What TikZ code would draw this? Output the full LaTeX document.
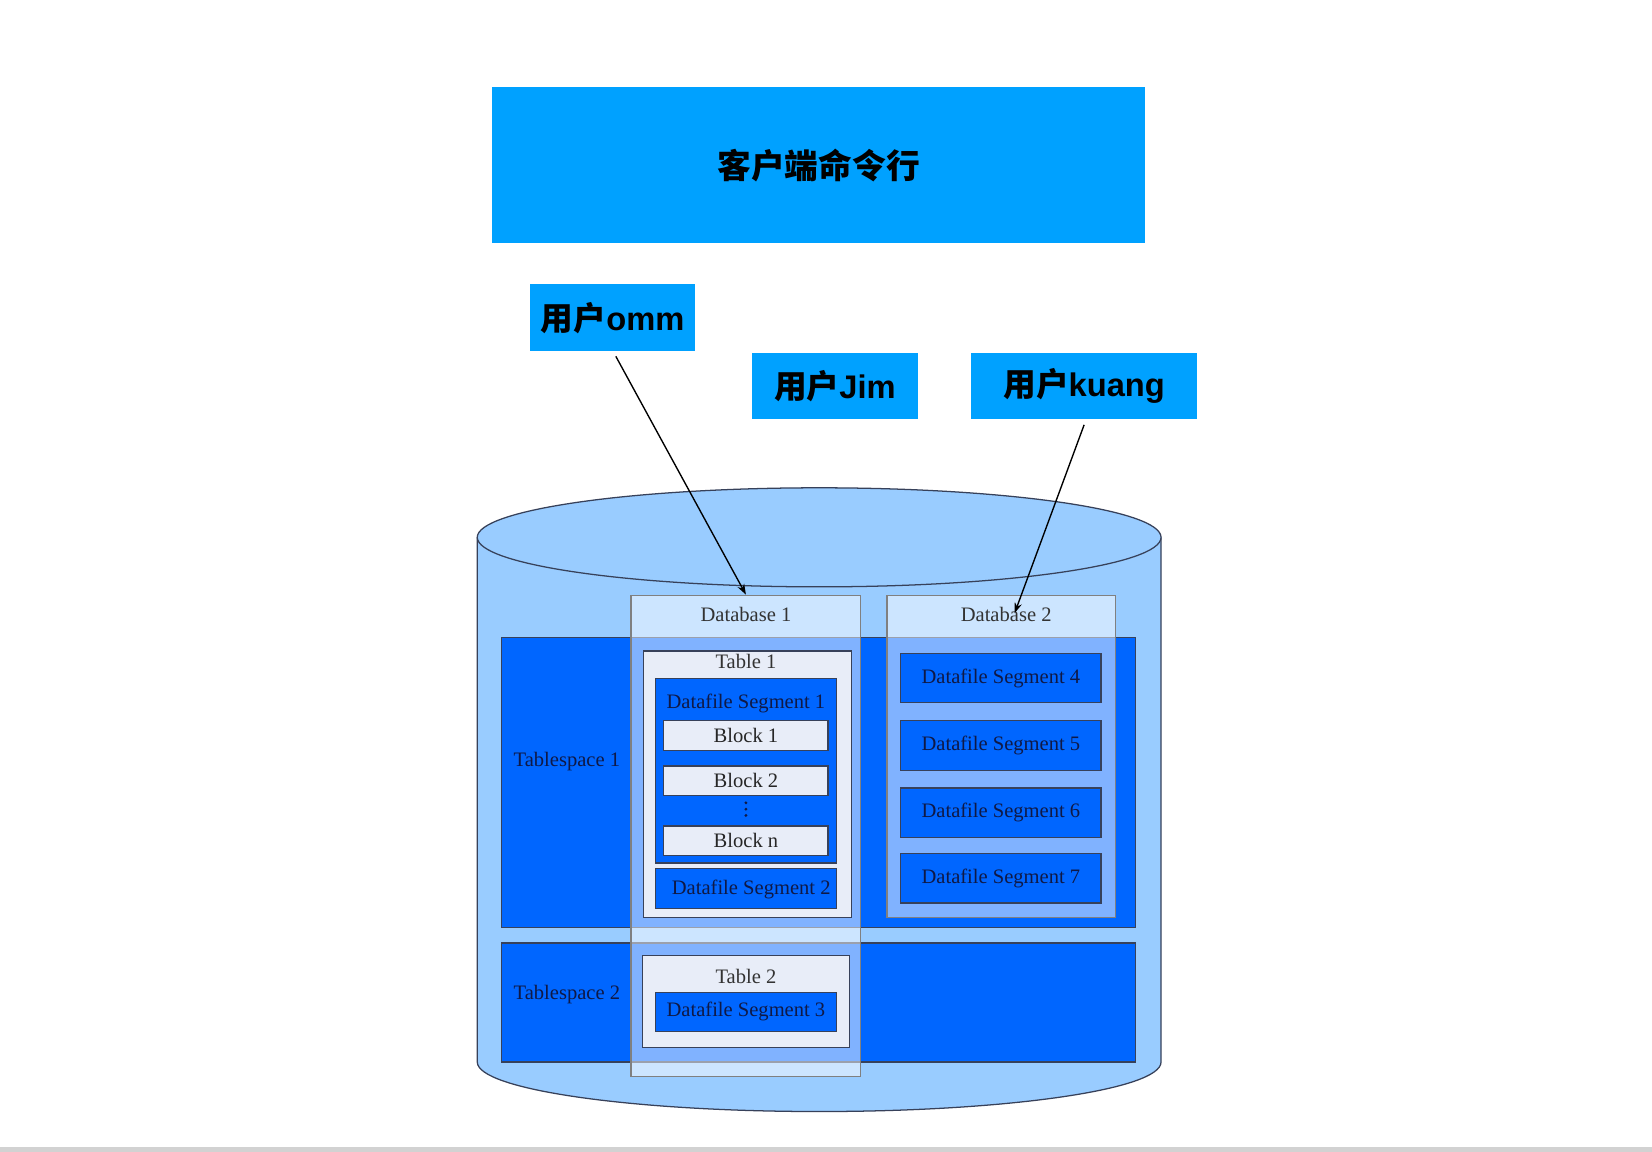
\documentclass[tikz,border=0pt]{standalone}
\usepackage{fontspec}
\setmainfont{Liberation Serif}
\setsansfont{Liberation Sans}
\newfontfamily\cjk{Noto Sans CJK SC}
\usetikzlibrary{arrows.meta}
\definecolor{cmdblue}{RGB}{0,161,255}
\definecolor{drumblue}{RGB}{153,204,255}
\definecolor{spaceblue}{RGB}{0,102,255}
\definecolor{tablegray}{RGB}{232,237,248}
\definecolor{edgegray}{RGB}{55,65,90}
\definecolor{segtext}{RGB}{15,25,70}
\newcommand{\usr}[1]{{\cjk\bfseries 用户}{\sffamily\bfseries #1}}
\begin{document}
\begin{tikzpicture}[x=1pt,y=-1pt,
  usrbox/.style={fill=cmdblue, minimum height=63pt, inner sep=0pt, font=\fontsize{31}{34}\selectfont},
  space/.style={draw=edgegray, fill=spaceblue, line width=1.2pt, minimum width=602pt, inner sep=0pt},
  dbcol/.style={draw=gray, fill=white, fill opacity=0.5, line width=1.2pt, inner sep=0pt},
  tbl/.style={draw=edgegray, fill=tablegray, line width=1.2pt, inner sep=0pt},
  seg/.style={draw=edgegray, fill=spaceblue, line width=1.2pt, inner sep=0pt},
  blk/.style={draw=edgegray, fill=tablegray, line width=1.2pt, minimum width=156pt, minimum height=28pt, inner sep=0pt, font=\fontsize{19.5}{21}\selectfont, text=black!85},
  lbl/.style={font=\fontsize{19.5}{21}\selectfont, text=black!80, inner sep=0pt},
  seglbl/.style={font=\fontsize{19.5}{21}\selectfont, text=segtext, inner sep=0pt},
  link/.style={draw, line width=1.3pt, -{Stealth[length=10pt,width=7pt]}}]
\useasboundingbox (0,0) rectangle (1568,1093);
\fill[gray!35] (0,1089) rectangle (1568,1093);
\node[fill=cmdblue, minimum width=620pt, minimum height=148pt, font=\cjk\bfseries\fontsize{32}{36}\selectfont] (cmd) at (777,157) {客户端命令行};
\node[usrbox, minimum width=157pt] (omm) at (581.5,301.5) {\usr{omm}};
\node[usrbox, minimum width=157pt] (jim) at (792.5,366.5) {\usr{Jim}};
\node[usrbox, minimum width=214pt] (kuang) at (1029,366.5) {\usr{kuang}};
\path[draw=edgegray, fill=drumblue, line width=1.2pt] (453,510) -- (453,1008) arc[start angle=180, end angle=0, x radius=324.5, y radius=47] -- (1102,510);
\path[draw=edgegray, fill=drumblue, line width=1.2pt] (777.5,510) ellipse[x radius=324.5, y radius=47];
\node[space, minimum height=275pt] (ts1) at (777,742.5) {};
\node[space, minimum height=113pt] (ts2) at (777,951.5) {};
\node[seglbl] (ts1name) at (538,723) {Tablespace 1};
\node[seglbl] (ts2name) at (538,944) {Tablespace 2};
\node[dbcol, minimum width=218pt, minimum height=457pt] (db1) at (708,793.5) {};
\node[dbcol, minimum width=217pt, minimum height=306pt] (db2) at (950.5,718) {};
\node[lbl] (db1name) at (708,583) {Database 1};
\node[lbl] (db2name) at (955,583) {Database 2};
\node[tbl, minimum width=197pt, minimum height=253pt] (t1) at (709.5,744.5) {};
\node[lbl] (t1name) at (708,628) {Table 1};
\node[seg, minimum width=172pt, minimum height=175pt] (s1) at (708,731.5) {};
\node[seglbl] (s1name) at (708,668) {Datafile Segment 1};
\node[blk] (b1) at (708,698) {Block 1};
\node[blk] (b2) at (708,741) {Block 2};
\foreach \y in {762,768,774}
  \fill[segtext] (708,\y) circle (1.5);
\node[blk] (bn) at (708,798) {Block n};
\node[seg, minimum width=172pt, minimum height=38pt] (s2) at (708,843) {};
\node[seglbl] (s2name) at (713,844) {Datafile Segment 2};
\node[tbl, minimum width=196pt, minimum height=87pt] (t2) at (708,950.5) {};
\node[lbl] (t2name) at (708,927) {Table 2};
\node[seg, minimum width=172pt, minimum height=37pt, font=\fontsize{19.5}{21}\selectfont, text=segtext] (s3) at (708,960.5) {Datafile Segment 3};
\foreach \k/\y in {4/643.5,5/707.5,6/771.5,7/833.5}
  \node[seg, minimum width=190pt, minimum height=47pt, font=\fontsize{19.5}{21}\selectfont, text=segtext] (s\k) at (950,\y) {Datafile Segment \k};
\coordinate (db2in) at (963,582);
\path[link] ([xshift=3pt,yshift=-5pt]omm.south) -- (db1.north);
\path[link] ([yshift=-5pt]kuang.south) -- (db2in);
\end{tikzpicture}
\end{document}
